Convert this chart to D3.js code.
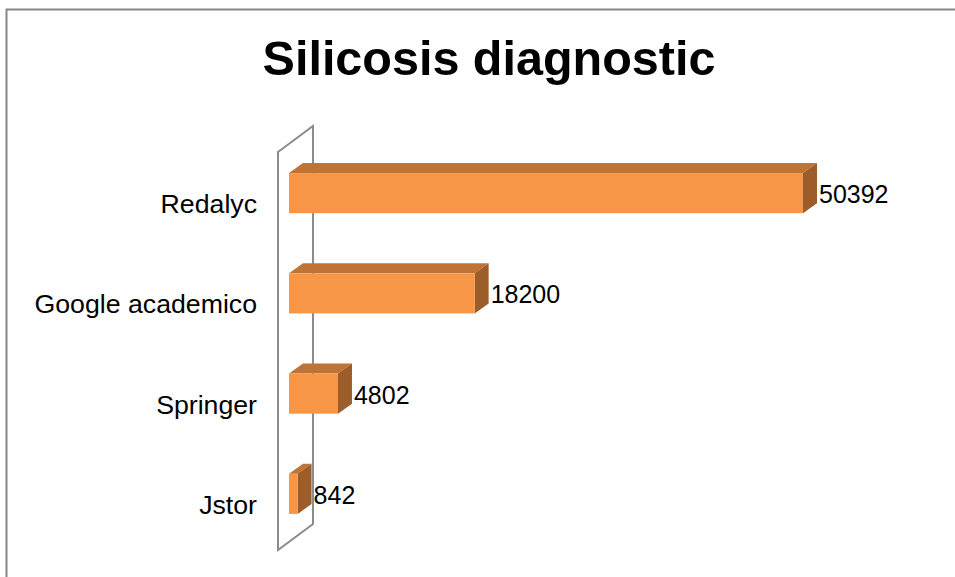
<!DOCTYPE html>
<html>
<head>
<meta charset="utf-8">
<script src="https://cdn.jsdelivr.net/npm/d3@7"></script>
<style>
  body { margin: 0; background: #fff; }
  text { font-family: Arial, "Liberation Sans", sans-serif; fill: #000; }
</style>
</head>
<body>
<svg class="chart"></svg>
<script>
// data
var sources = ["Redalyc", "Google academico", "Springer", "Jstor"];
var counts = [50392, 18200, 4802, 842];
var xMax = 60000;

var width = 955, height = 577;
var depth = {dx: 14, dy: -10};        // bar 3d offset
var wallDepth = {dx: 35, dy: -26};    // side wall offset

var chart = d3.select(".chart")
    .attr("width", width)
    .attr("height", height);

// outer frame
chart.append("rect")
    .attr("x", 6.5).attr("y", 9.5)
    .attr("width", width).attr("height", height)
    .attr("fill", "none")
    .attr("stroke", "#868686")
    .attr("stroke-width", 2);

chart.append("text")
    .attr("x", 489).attr("y", 75)
    .attr("text-anchor", "middle")
    .style("font-size", "48.5px")
    .style("font-weight", "bold")
    .text("Silicosis diagnostic");

var xScale = d3.scaleLinear()
    .domain([0, xMax])
    .range([289, 901]);

var yScale = d3.scaleBand()
    .domain(sources)
    .range([143, 544])
    .paddingInner(0.6)
    .paddingOuter(0.3);

// the vertical wall (left plane)
var wx = xScale(0) - 11, wTop = yScale.range()[0] + 9, wBot = yScale.range()[1] + 6;
chart.append("path")
    .attr("d", "M" + wx + "," + wTop +
               "L" + (wx + wallDepth.dx) + "," + (wTop + wallDepth.dy) +
               "L" + (wx + wallDepth.dx) + "," + (wBot + wallDepth.dy) +
               "L" + wx + "," + wBot + "Z")
    .attr("fill", "none")
    .attr("stroke", "#8c8c8c")
    .attr("stroke-width", 2);

var data = sources.map(function(s, i){ return {name: s, value: counts[i]}; });

var bars = chart.selectAll(".bar")
    .data(data)
    .enter().append("g")
    .attr("class", "bar");

// top face
bars.append("path")
    .attr("fill", "#bf7334")
    .attr("d", function(d){
      var x0 = xScale(0), x1 = xScale(d.value), y = yScale(d.name);
      return "M" + x0 + "," + y + "L" + (x0 + depth.dx) + "," + (y + depth.dy) +
             "L" + (x1 + depth.dx) + "," + (y + depth.dy) + "L" + x1 + "," + y + "Z";
    });

// side face
bars.append("path")
    .attr("fill", "#9c5d2b")
    .attr("d", function(d){
      var x1 = xScale(d.value), y = yScale(d.name), h = yScale.bandwidth();
      return "M" + x1 + "," + y + "L" + (x1 + depth.dx) + "," + (y + depth.dy) +
             "L" + (x1 + depth.dx) + "," + (y + h + depth.dy) + "L" + x1 + "," + (y + h) + "Z";
    });

// front face
bars.append("rect")
    .attr("fill", "#f79646")
    .attr("x", xScale(0))
    .attr("y", function(d){ return yScale(d.name); })
    .attr("width", function(d){ return xScale(d.value) - xScale(0); })
    .attr("height", yScale.bandwidth());

// value labels
bars.append("text")
    .attr("x", function(d){ return xScale(d.value) + depth.dx + 2; })
    .attr("y", function(d){ return yScale(d.name) + yScale.bandwidth() / 2 + 10; })
    .style("font-size", "25px")
    .text(function(d){ return d.value; });

// category labels
chart.selectAll(".cat")
    .data(sources)
    .enter().append("text")
    .attr("class", "cat")
    .attr("x", 257)
    .attr("y", function(d){ return yScale(d) + yScale.bandwidth() / 2 + 20; })
    .attr("text-anchor", "end")
    .style("font-size", "26.7px")
    .text(function(d){ return d; });
</script>
</body>
</html>
